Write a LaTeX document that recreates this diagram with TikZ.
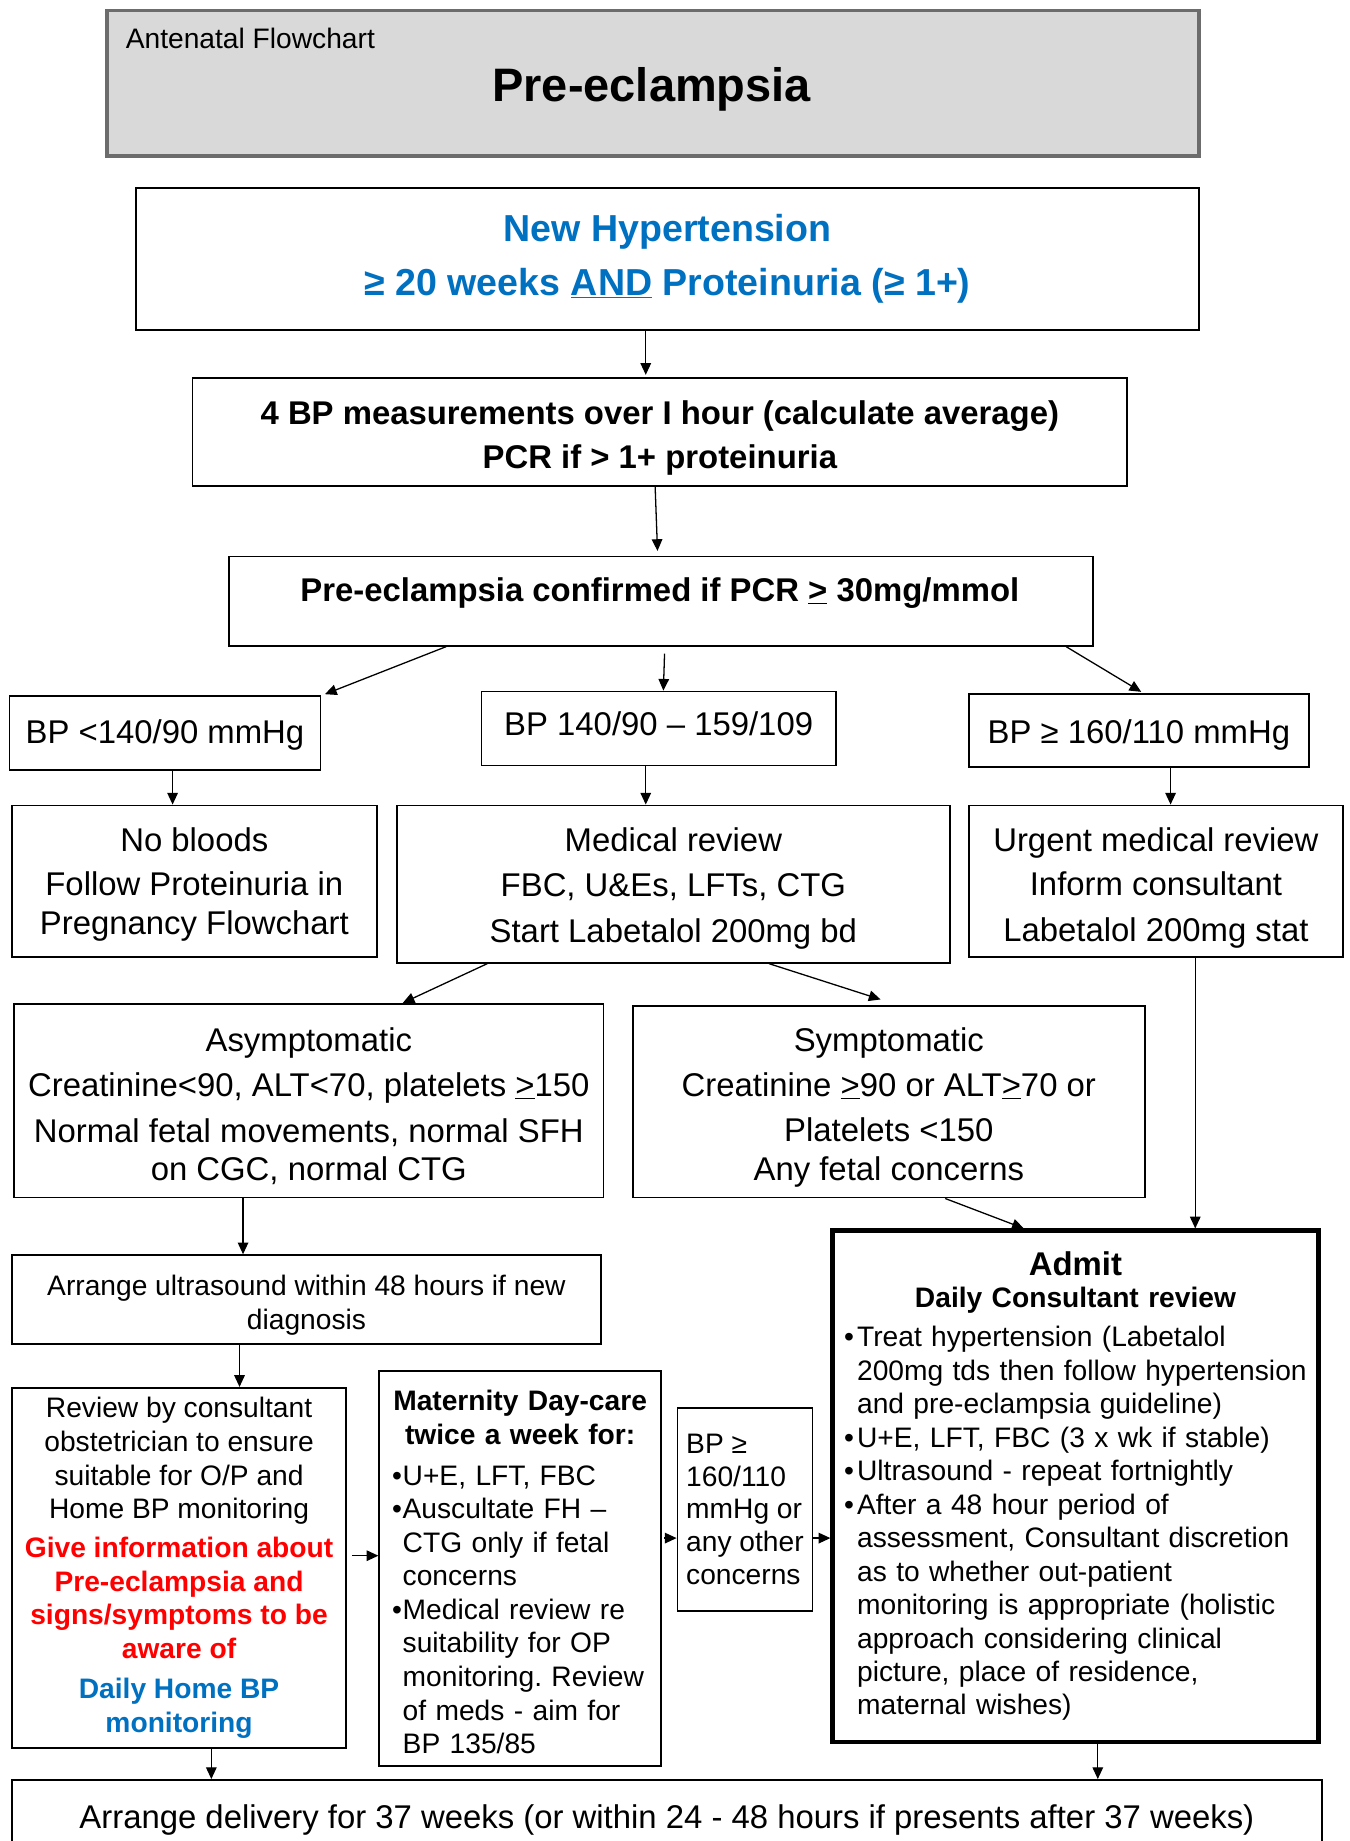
\documentclass[tikz,border=0pt]{standalone}
\usepackage{fontspec}
\setmainfont{Liberation Sans}
\usetikzlibrary{arrows.meta,calc}
\definecolor{hblue}{HTML}{0070C0}
\definecolor{hred}{HTML}{FF0000}
\definecolor{tgray}{HTML}{D9D9D9}
\definecolor{tborder}{HTML}{6C6C6C}
\newcommand\fsA{\fontsize{28}{33}\selectfont}
\newcommand\fsB{\fontsize{24}{28.6}\selectfont}
\newcommand\bulA{\hspace*{11pt}\makebox[9pt][l]{\textbullet}}
\newcommand\indA{\hspace*{20pt}}
\newcommand\bulB{\hspace*{10pt}\makebox[11pt][l]{\textbullet}}
\newcommand\indB{\hspace*{21pt}}
\newcommand\sH[1]{\rule{0pt}{#1pt}}
\frenchspacing
\begin{document}
\begin{tikzpicture}[x=1pt,y=-1pt,
 box/.style={draw, line width=1.5pt, inner sep=0pt, align=center},
 arr/.style={line width=1.1pt, -{Triangle[length=10pt,width=9pt]}},
]
\useasboundingbox (0,0) rectangle (1149,1568);
\clip (0,0) rectangle (1149,1568);

% title
\node[box, line width=3pt, draw=tborder, fill=tgray, minimum width=930, minimum height=124] (title) at (556,71) {};
\node[anchor=west, inner sep=0, font=\fontsize{24}{28}\selectfont] (ttlA) at (107,33) {Antenatal Flowchart};
\node[inner sep=0, font=\fontsize{40}{44}\selectfont\bfseries] (ttlB) at (555,76) {Pre-eclampsia};

\node[box, minimum width=905, minimum height=121, text=hblue, font=\fontsize{32}{46}\selectfont\bfseries] (nh) at (568.5,220.5)
 {New Hypertension\\ ≥ 20 weeks \underline{AND} Proteinuria (≥ 1+)};

\node[box, minimum width=796, minimum height=92, font=\fontsize{28}{38}\selectfont\bfseries] (bp4) at (562,368)
 {\sH{30.5}4 BP measurements over I hour (calculate average)\\ PCR if > 1+ proteinuria};

\node[box, minimum width=736, minimum height=76] (conf) at (563,512) {};
\node[inner sep=0, font=\fsA\bfseries] (conft) at (562,505) {Pre-eclampsia confirmed if PCR \underline{>} 30mg/mmol};

\node[box, minimum width=265, minimum height=63, font=\fsA] (bpl) at (140.5,624.5) {\sH{24}BP <140/90 mmHg};
\node[box, minimum width=302, minimum height=63, font=\fsA] (bpm) at (561,620.5) {BP 140/90 – 159/109\rule[-8pt]{0pt}{0pt}};
\node[box, minimum width=290, minimum height=62, font=\fsA] (bph) at (970,622) {\sH{28}BP ≥ 160/110 mmHg};

\node[box, minimum width=311, minimum height=129, font=\fsA] (nob) at (165.5,750.5)
 {\sH{26}No bloods\\[5pt] Follow Proteinuria in\\ Pregnancy Flowchart};
\node[box, minimum width=471, minimum height=134, font=\fsA] (med) at (573.5,753)
 {\sH{28}Medical review\\[5pt] FBC, U\&Es, LFTs, CTG\\[6pt] Start Labetalol 200mg bd};
\node[box, minimum width=319, minimum height=129, font=\fsA] (urg) at (984.5,750.5)
 {\sH{32}Urgent medical review\\[5pt] Inform consultant\\[6pt] Labetalol 200mg stat};

\node[box, minimum width=502, minimum height=165, font=\fsA] (asy) at (263,937.5)
 {\sH{30}Asymptomatic\\[5pt] Creatinine<90, ALT<70, platelets \underline{>}150\\[6pt] Normal fetal movements, normal SFH\\ on CGC, normal CTG};
\node[box, minimum width=436, minimum height=163, font=\fsA] (sym) at (757,938.5)
 {\sH{30}Symptomatic\\[5pt] Creatinine \underline{>}90 or ALT\underline{>}70 or\\[6pt] Platelets <150\\ Any fetal concerns};

\node[box, minimum width=502, minimum height=76, font=\fontsize{24}{29}\selectfont] (us) at (261,1107)
 {\sH{27.5}Arrange ultrasound within 48 hours if new\\ diagnosis};

\node[box, minimum width=285, minimum height=307, font=\fsB] (rev) at (152.5,1335.5)
 {Review by consultant\\ obstetrician to ensure\\ suitable for O/P and\\ Home BP monitoring\\[4.5pt]
  \textcolor{hred}{\bfseries Give information about}\\ \textcolor{hred}{\bfseries Pre-eclampsia and}\\
  \textcolor{hred}{\bfseries signs/symptoms to be}\\ \textcolor{hred}{\bfseries aware of}\\[6pt]
  \textcolor{hblue}{\bfseries Daily Home BP}\\ \textcolor{hblue}{\bfseries monitoring}};

\node[box, minimum width=240, minimum height=336, text width=240, align=left, font=\fsB] (mat) at (443,1336)
 {\parindent=0pt
  {\centering\bfseries \sH{23.5}Maternity Day-care\\ twice a week for:\par}
  \vspace{6pt}
  \bulA U+E, LFT, FBC\\
  \bulA Auscultate FH –\\
  \indA CTG only if fetal\\
  \indA concerns\\
  \bulA Medical review re\\
  \indA suitability for OP\\
  \indA monitoring. Review\\
  \indA of meds - aim for\\
  \indA BP 135/85\par};

\node[box, minimum width=115, minimum height=173, align=left, font=\fontsize{24}{28}\selectfont] (bpo) at (634.5,1285.5)
 {BP ≥\\ 160/110\\ mmHg or\\ any other\\ concerns};

\node[box, line width=3.5pt, minimum width=414, minimum height=436, text width=414, align=left, font=\fontsize{24}{28.5}\selectfont] (adm) at (916,1266)
 {\parindent=0pt
  {\centering\fontsize{28}{28.5}\selectfont\bfseries Admit\par}
  \vspace{-1.5pt}
  {\centering\bfseries Daily Consultant review\par}
  \vspace{5pt}
  \bulB Treat hypertension (Labetalol\\
  \indB 200mg tds then follow hypertension\\
  \indB and pre-eclampsia guideline)\\
  \bulB U+E, LFT, FBC (3 x wk if stable)\\
  \bulB Ultrasound - repeat fortnightly\\
  \bulB After a 48 hour period of\\
  \indB assessment, Consultant discretion\\
  \indB as to whether out-patient\\
  \indB monitoring is appropriate (holistic\\
  \indB approach considering clinical\\
  \indB picture, place of residence,\\
  \indB maternal wishes)\par};

\node[box, minimum width=1116, minimum height=64, font=\fsA] (bot) at (568,1548)
 {\sH{24}Arrange delivery for 37 weeks (or within 24 - 48 hours if presents after 37 weeks)};

% connectors
\draw[arr] ([xshift=-18.5]nh.south) -- ([xshift=-12,yshift=2]bp4.north);
\draw[arr] ([xshift=-4]bp4.south) -- ([xshift=-3,yshift=4]conf.north);
\draw[arr] ([xshift=-183]conf.south) -- ([xshift=3,yshift=1]bpl.north east);
\draw[arr] ([xshift=3,yshift=-6]conf.south) -- ([xshift=4]bpm.north);
\draw[arr] ([xshift=345]conf.south) -- ([xshift=2,yshift=1]bph.north);
\draw[arr] ([xshift=6.5]bpl.south) -- ([xshift=6.5]bpl.south |- nob.north);
\draw[arr] ([xshift=-11]bpm.south) -- ([xshift=-11]bpm.south |- med.north);
\draw[arr] ([xshift=27]bph.south) -- ([xshift=27]bph.south |- urg.north);
\draw[arr] ([xshift=-158.5]med.south) -- ([xshift=80]asy.north);
\draw[arr] ([xshift=81.5]med.south) -- ([xshift=-7,yshift=5]sym.north);
\draw[arr] ([xshift=33.5]urg.south) -- ([xshift=33.5]urg.south |- adm.north);
\draw[arr] ([xshift=-56]asy.south) -- ([xshift=-56]asy.south |- us.north);
\draw[arr] ([xshift=48]sym.south) -- ([xshift=-44]adm.north);
\draw[arr] ([xshift=-57]us.south) -- ([xshift=-57]us.south |- rev.north);
\draw[arr] ([xshift=4,yshift=10.5]rev.east) -- ([yshift=10.5]rev.east -| mat.west);
\draw[arr] ([xshift=2,yshift=26]mat.east) -- ([yshift=26]mat.east -| bpo.west);
\draw[arr] ([yshift=-24.5]bpo.east) -- ([yshift=-24.5]bpo.east -| adm.west);
\draw[arr] ([xshift=27.5]rev.south) -- ([xshift=27.5]rev.south |- bot.north);
\draw[arr] ([xshift=19]adm.south) -- ([xshift=19]adm.south |- bot.north);
\end{tikzpicture}
\end{document}
